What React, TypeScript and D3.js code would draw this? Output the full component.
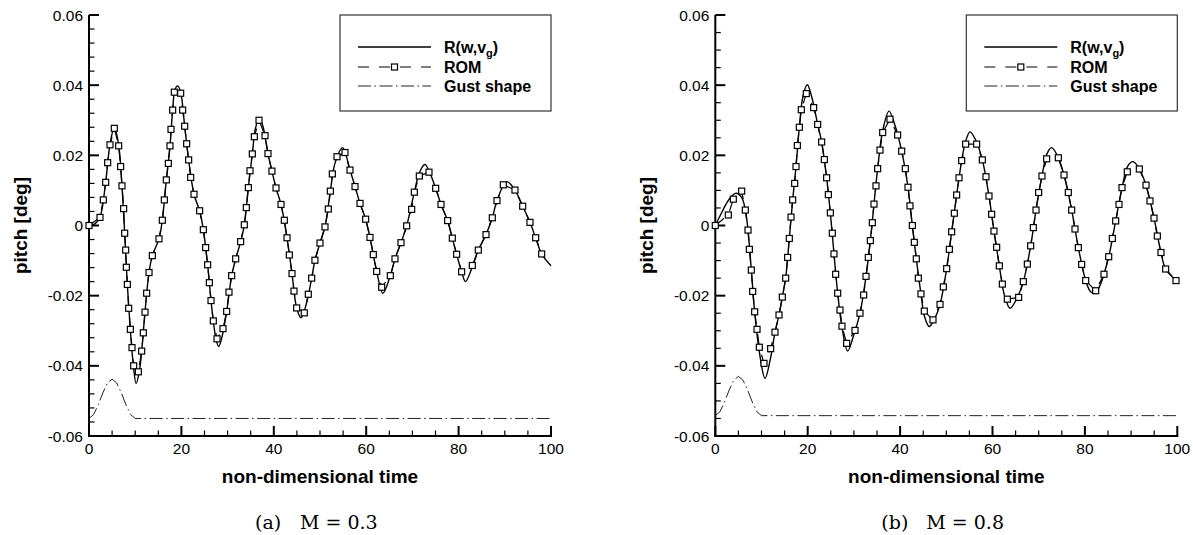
import React from "react";
import * as d3 from "d3";

// axis ticks
const timeTicks = [0, 20, 40, 60, 80, 100];
const pitchTicks = [0.06, 0.04, 0.02, 0, -0.02, -0.04, -0.06];
const pitchTickLabels = ["0.06", "0.04", "0.02", "0", "-0.02", "-0.04", "-0.06"];

// gust shape (1-cos bump)
const gustTime = [0, 1, 2, 3, 4, 5, 6, 7, 8, 9, 10, 100];
const gustM03 = [-0.055, -0.0539, -0.0511, -0.0477, -0.0449, -0.0438, -0.0449, -0.0477, -0.0511, -0.0539, -0.055, -0.055];
const gustM08 = [-0.0542, -0.0531, -0.0503, -0.0469, -0.0441, -0.043, -0.0441, -0.0469, -0.0503, -0.0531, -0.0542, -0.0542];

// R(w,v_g) full model, M = 0.3
const fullM03: [number, number][] = [
  [0, 0], [1.2, 0.0004], [2.4, 0.0025], [3.6, 0.0123], [4.55, 0.0232], [5.5, 0.028], [6.42, 0.0229],
  [7.14, 0.0113], [7.72, -0.0022], [8.3, -0.0168], [8.95, -0.0298], [9.5, -0.0385], [10.2, -0.045],
  [10.9, -0.0415], [11.4, -0.0358], [12.12, -0.0247], [12.99, -0.0134], [13.71, -0.0086], [15.15, -0.0038],
  [15.87, 0.0015], [16.74, 0.013], [17.53, 0.0227], [18.11, 0.0329], [18.6, 0.0387], [19.2, 0.0398],
  [19.84, 0.038], [20.71, 0.0283], [21.57, 0.0187], [22.73, 0.0089], [23.95, 0.0042], [24.75, -0.0012],
  [25.68, -0.0112], [26.41, -0.0214], [26.91, -0.0272], [27.5, -0.0325], [28.07, -0.0345], [28.7, -0.0322],
  [29.8, -0.0245], [30.88, -0.0143], [31.75, -0.0095], [32.83, -0.0046], [33.62, 0.0002], [34.49, 0.0108],
  [35.35, 0.0204], [36.0, 0.0275], [36.8, 0.0306], [37.6, 0.0285], [38.74, 0.0205], [39.6, 0.0155],
  [40.48, 0.0107], [41.56, 0.006], [42.86, -0.0035], [43.94, -0.0137], [44.95, -0.0235], [45.9, -0.0263],
  [47.0, -0.0225], [48.2, -0.015], [48.9, -0.0099], [50.0, -0.005], [51.08, -0.0004], [52.24, 0.0098],
  [53.3, 0.018], [54.9, 0.0222], [56.49, 0.0158], [57.58, 0.0111], [58.66, 0.0063], [59.88, 0.0018],
  [60.82, -0.0034], [62.27, -0.0131], [63.6, -0.0193], [65.22, -0.0143], [66.23, -0.0095], [67.53, -0.0049],
  [68.76, -0.0001], [70.42, 0.0095], [71.5, 0.015], [72.7, 0.0174], [75.04, 0.0106], [76.19, 0.006],
  [77.63, 0.0014], [78.64, -0.0036], [80.66, -0.0132], [81.5, -0.016], [82.97, -0.0118], [84.27, -0.007],
  [85.93, -0.0026], [87.3, 0.0022], [88.31, 0.0071], [90.4, 0.0125], [92.2, 0.0101], [93.87, 0.0055],
  [95.45, 0.0009], [96.68, -0.0035], [97.98, -0.0081], [100, -0.0115],
];

// ROM, M = 0.3 (one entry per plotted symbol)
const romM03: [number, number][] = [
  [0, 0], [2.38, 0.0023], [3.1, 0.0073], [3.61, 0.0123], [4.04, 0.0179], [4.55, 0.023], [5.48, 0.0277],
  [6.42, 0.0227], [6.85, 0.0168], [7.14, 0.0113], [7.5, 0.0048], [7.72, -0.0022], [7.94, -0.007],
  [8.08, -0.0119], [8.3, -0.0168], [8.59, -0.0236], [8.95, -0.0296], [9.31, -0.0348], [9.67, -0.04],
  [10.68, -0.0417], [11.4, -0.0358], [11.76, -0.0306], [12.12, -0.0247], [12.48, -0.0193], [12.99, -0.0134],
  [13.71, -0.0086], [15.15, -0.0038], [15.87, 0.0015], [16.31, 0.0073], [16.74, 0.013], [17.17, 0.0177],
  [17.53, 0.0227], [17.75, 0.0274], [18.11, 0.0329], [18.47, 0.038], [19.84, 0.0377], [20.27, 0.0329],
  [20.71, 0.0283], [21.14, 0.0233], [21.57, 0.0187], [22.01, 0.0137], [22.73, 0.0089], [23.95, 0.0042],
  [24.75, -0.0012], [25.25, -0.0063], [25.68, -0.0112], [26.05, -0.0163], [26.41, -0.0214], [26.91, -0.0272],
  [27.71, -0.0323], [29.0, -0.0294], [29.8, -0.0245], [30.3, -0.019], [30.88, -0.0143], [31.75, -0.0095],
  [32.83, -0.0046], [33.62, 0.0002], [34.05, 0.0051], [34.49, 0.0108], [34.85, 0.0156], [35.35, 0.0204],
  [35.79, 0.0253], [36.8, 0.03], [38.1, 0.0256], [38.74, 0.0205], [39.6, 0.0155], [40.48, 0.0107],
  [41.56, 0.006], [42.28, 0.0015], [42.86, -0.0035], [43.36, -0.0084], [43.94, -0.0137], [44.37, -0.0187],
  [44.95, -0.0235], [46.6, -0.0249], [47.47, -0.0196], [48.2, -0.015], [48.9, -0.0099], [50.0, -0.005],
  [51.08, -0.0004], [51.8, 0.0047], [52.24, 0.0098], [52.67, 0.0147], [53.68, 0.0196], [55.41, 0.0208],
  [56.49, 0.0158], [57.58, 0.0111], [58.66, 0.0063], [59.88, 0.0018], [60.82, -0.0034], [61.54, -0.0083],
  [62.27, -0.0131], [63.35, -0.0176], [65.22, -0.0143], [66.23, -0.0095], [67.53, -0.0049], [68.76, -0.0001],
  [69.84, 0.0046], [70.42, 0.0095], [71.5, 0.0141], [73.59, 0.0152], [75.04, 0.0106], [76.19, 0.006],
  [77.63, 0.0014], [78.64, -0.0036], [79.58, -0.0082], [80.66, -0.0132], [82.97, -0.0114], [84.27, -0.007],
  [85.93, -0.0026], [87.3, 0.0022], [88.31, 0.0071], [89.68, 0.0116], [92.2, 0.0101], [93.87, 0.0055],
  [95.45, 0.0009], [96.68, -0.0035], [97.98, -0.0081],
];

// R(w,v_g) full model, M = 0.8
const fullM08: [number, number][] = [
  [0, 0], [1.5, 0.004], [3.0, 0.0075], [4.48, 0.0092], [5.7, 0.008], [6.5, 0.0044], [7.08, -0.0013],
  [7.8, -0.0127], [8.52, -0.0246], [9.53, -0.036], [10.76, -0.0436], [12.0, -0.0375], [12.92, -0.0304],
  [13.79, -0.0255], [14.51, -0.0204], [15.23, -0.015], [16.02, -0.0037], [16.75, 0.0073], [17.47, 0.0168],
  [18.19, 0.028], [19.0, 0.037], [19.92, 0.0401], [20.9, 0.0365], [22.16, 0.0288], [23.02, 0.0238],
  [24.1, 0.0136], [24.9, 0.0036], [25.69, -0.0081], [26.49, -0.0193], [27.42, -0.029], [28.65, -0.0358],
  [29.9, -0.0315], [31.32, -0.025], [32.62, -0.0145], [33.56, -0.0043], [34.35, 0.0061], [35.14, 0.0162],
  [36.23, 0.027], [37.6, 0.0326], [38.9, 0.0285], [40.34, 0.0212], [41.71, 0.0109], [42.65, 0.0],
  [43.51, -0.0095], [44.52, -0.0195], [45.3, -0.026], [46.33, -0.0288], [47.5, -0.0265], [48.64, -0.0225],
  [50.08, -0.0123], [51.16, -0.0018], [52.24, 0.0087], [53.33, 0.0185], [54.19, 0.024], [55.13, 0.0267],
  [56.3, 0.0245], [57.8, 0.0187], [59.24, 0.0084], [60.32, -0.0016], [61.48, -0.0115], [62.6, -0.02],
  [63.8, -0.0236], [65.0, -0.0215], [66.67, -0.016], [68.26, -0.0058], [69.42, 0.0044], [70.71, 0.0141],
  [71.8, 0.0205], [72.8, 0.0222], [74.0, 0.02], [75.48, 0.0144], [77.14, 0.0044], [78.58, -0.0063],
  [80.17, -0.0157], [81.2, -0.0188], [82.2, -0.0193], [83.3, -0.017], [85.15, -0.0089], [86.66, 0.0013],
  [88.03, 0.0108], [89.3, 0.017], [90.34, 0.0182], [91.5, 0.0168], [93.23, 0.0115], [94.96, 0.0021],
  [96.47, -0.0077], [97.48, -0.0124], [100, -0.016],
];

// ROM, M = 0.8
const romM08: [number, number][] = [
  [0, 0], [2.82, 0.003], [3.9, 0.0075], [5.71, 0.0098], [6.5, 0.0044], [7.08, -0.0013], [7.37, -0.0068],
  [7.8, -0.0127], [8.09, -0.0188], [8.52, -0.0246], [9.03, -0.0296], [9.53, -0.0347], [10.54, -0.0393],
  [11.98, -0.0351], [12.92, -0.0304], [13.79, -0.0255], [14.51, -0.0204], [15.23, -0.015], [15.66, -0.0091],
  [16.02, -0.0037], [16.39, 0.0024], [16.75, 0.0073], [17.18, 0.012], [17.47, 0.0168], [17.76, 0.0228],
  [18.19, 0.028], [18.62, 0.033], [19.7, 0.0376], [21.29, 0.0336], [22.16, 0.0288], [23.02, 0.0238],
  [23.6, 0.0188], [24.1, 0.0136], [24.47, 0.0088], [24.9, 0.0036], [25.33, -0.0022], [25.69, -0.0081],
  [26.05, -0.0139], [26.49, -0.0193], [26.99, -0.0241], [27.42, -0.0287], [28.43, -0.0336], [30.24, -0.0299],
  [31.32, -0.025], [32.11, -0.0198], [32.62, -0.0145], [33.12, -0.0091], [33.56, -0.0043], [33.99, 0.0008],
  [34.35, 0.0061], [34.78, 0.0113], [35.14, 0.0162], [35.65, 0.0215], [36.23, 0.0265], [37.81, 0.0303],
  [39.47, 0.0258], [40.34, 0.0212], [41.13, 0.0162], [41.71, 0.0109], [42.14, 0.0056], [42.65, 0.0],
  [43.08, -0.0048], [43.51, -0.0095], [43.95, -0.015], [44.52, -0.0195], [45.24, -0.0244], [47.12, -0.0269],
  [48.64, -0.0225], [49.36, -0.0175], [50.08, -0.0123], [50.66, -0.0068], [51.16, -0.0018], [51.74, 0.0035],
  [52.24, 0.0087], [52.75, 0.0136], [53.33, 0.0185], [54.19, 0.0232], [56.57, 0.0232], [57.8, 0.0187],
  [58.59, 0.0139], [59.24, 0.0084], [59.82, 0.0032], [60.32, -0.0016], [60.9, -0.0062], [61.48, -0.0115],
  [62.13, -0.0167], [63.21, -0.021], [65.66, -0.0205], [66.67, -0.016], [67.54, -0.011], [68.26, -0.0058],
  [68.84, -0.0006], [69.42, 0.0044], [69.99, 0.0094], [70.71, 0.0141], [71.72, 0.019], [74.25, 0.0193],
  [75.48, 0.0144], [76.41, 0.0094], [77.14, 0.0044], [77.86, -0.001], [78.58, -0.0063], [79.3, -0.0111],
  [80.17, -0.0157], [82.33, -0.0186], [84.13, -0.0139], [85.15, -0.0089], [85.94, -0.0037], [86.66, 0.0013],
  [87.38, 0.006], [88.03, 0.0108], [89.18, 0.0153], [91.78, 0.0161], [93.23, 0.0115], [94.09, 0.007],
  [94.96, 0.0021], [95.68, -0.003], [96.47, -0.0077], [97.48, -0.0124], [99.72, -0.0157],
];

const sans = "'Liberation Sans', Arial, Helvetica, sans-serif";
const serif = "'DejaVu Serif', serif";

type PanelProps = {
  left: number;
  full: [number, number][];
  rom: [number, number][];
  gust: number[];
  minorStep: number;
  letter: string;
  mach: string;
};

const Panel = ({ left, full, rom, gust, minorStep, letter, mach }: PanelProps) => {
  const x = d3.scaleLinear().domain([0, 100]).range([left, left + 462]);
  const y = d3.scaleLinear().domain([-0.06, 0.06]).range([436, 15]);

  const smooth = d3
    .line<[number, number]>()
    .x((d) => x(d[0]))
    .y((d) => y(d[1]))
    .curve(d3.curveCatmullRom.alpha(0.5));
  const straight = d3
    .line<[number, number]>()
    .x((d) => x(d[0]))
    .y((d) => y(d[1]));
  const gustPts: [number, number][] = gustTime.map((t, i) => [t, gust[i]]);

  const minorX = d3.range(0, 100.001, 5).filter((t) => t % 20 !== 0);
  const minorY = d3
    .range(-0.06, 0.06001, minorStep)
    .filter((v) => Math.abs(v / 0.02 - Math.round(v / 0.02)) > 0.01);

  const x0 = x(0);
  const yB = y(-0.06);
  const lg = x(100) - 211; // legend box left edge

  return (
    <g>
      {/* axes */}
      <line x1={x0} x2={x0} y1={y(0.06)} y2={yB + 1} stroke="#000" strokeWidth={2} />
      <line x1={x0 - 1} x2={x(100) + 1} y1={yB} y2={yB} stroke="#000" strokeWidth={2} />
      {pitchTicks.map((v, i) => (
        <g key={"py" + i}>
          <line x1={x0} x2={x0 + 10} y1={y(v)} y2={y(v)} stroke="#000" strokeWidth={2} />
          <text x={x0 - 6} y={y(v) + 5.5} textAnchor="end" fontFamily={sans} fontSize={15.5}>
            {pitchTickLabels[i]}
          </text>
        </g>
      ))}
      {minorY.map((v, i) => (
        <line key={"my" + i} x1={x0} x2={x0 + 5.5} y1={y(v)} y2={y(v)} stroke="#000" strokeWidth={1.2} />
      ))}
      {timeTicks.map((t) => (
        <g key={"tx" + t}>
          <line x1={x(t)} x2={x(t)} y1={yB} y2={yB - 10} stroke="#000" strokeWidth={2} />
          <text x={x(t)} y={yB + 17.5} textAnchor="middle" fontFamily={sans} fontSize={15.5}>
            {t}
          </text>
        </g>
      ))}
      {minorX.map((t) => (
        <line key={"mx" + t} x1={x(t)} x2={x(t)} y1={yB} y2={yB - 5.5} stroke="#000" strokeWidth={1.2} />
      ))}

      {/* axis titles */}
      <text x={(x(0) + x(100)) / 2} y={483} textAnchor="middle" fontFamily={sans} fontWeight="bold" fontSize={19}>
        non-dimensional time
      </text>
      <text
        transform={`translate(${left - 62},225.5) rotate(-90)`}
        textAnchor="middle"
        fontFamily={sans}
        fontWeight="bold"
        fontSize={19}
      >
        pitch [deg]
      </text>

      {/* series */}
      <path d={straight(gustPts) ?? ""} fill="none" stroke="#222" strokeWidth={1} strokeDasharray="13,3.5,1.5,3.5" />
      <path d={straight(rom) ?? ""} fill="none" stroke="#000" strokeWidth={1.2} strokeDasharray="11,10" />
      <path d={smooth(full) ?? ""} fill="none" stroke="#000" strokeWidth={1.4} />
      {rom.map((d, i) => (
        <rect
          key={"r" + i}
          x={x(d[0]) - 3}
          y={y(d[1]) - 3}
          width={6}
          height={6}
          fill="#fff"
          stroke="#000"
          strokeWidth={1.2}
        />
      ))}

      {/* legend */}
      <rect x={lg} y={15} width={211} height={96} fill="#fff" stroke="#333" strokeWidth={1.2} />
      <line x1={lg + 18} x2={lg + 91} y1={47} y2={47} stroke="#000" strokeWidth={1.4} />
      <line x1={lg + 18} x2={lg + 91} y1={67} y2={67} stroke="#000" strokeWidth={1.2} strokeDasharray="11,10" />
      <rect x={lg + 51.5} y={64} width={6} height={6} fill="#fff" stroke="#000" strokeWidth={1.2} />
      <line x1={lg + 18} x2={lg + 91} y1={86} y2={86} stroke="#222" strokeWidth={1} strokeDasharray="13,3.5,1.5,3.5" />
      <text x={lg + 104} y={52.5} fontFamily={sans} fontWeight="bold" fontSize={16}>
        R(w,v<tspan fontSize={11} dy={4}>g</tspan><tspan dy={-4}>)</tspan>
      </text>
      <text x={lg + 104} y={72.5} fontFamily={sans} fontWeight="bold" fontSize={16}>
        ROM
      </text>
      <text x={lg + 104} y={92} fontFamily={sans} fontWeight="bold" fontSize={16}>
        Gust shape
      </text>

      {/* caption */}
      <text x={x(0) + 166} y={529} fontFamily={serif} fontSize={19}>
        ({letter})
      </text>
      <text x={x(0) + 211} y={529} fontFamily={serif} fontSize={19}>
        {mach}
      </text>
    </g>
  );
};

export default function App() {
  return (
    <svg
      width={1193}
      height={535}
      style={{ position: "absolute", left: 0, top: 0, background: "#fff" }}
    >
      <Panel left={89} full={fullM03} rom={romM03} gust={gustM03} minorStep={0.004} letter="a" mach="M = 0.3" />
      <Panel left={715.3} full={fullM08} rom={romM08} gust={gustM08} minorStep={0.005} letter="b" mach="M = 0.8" />
    </svg>
  );
}
